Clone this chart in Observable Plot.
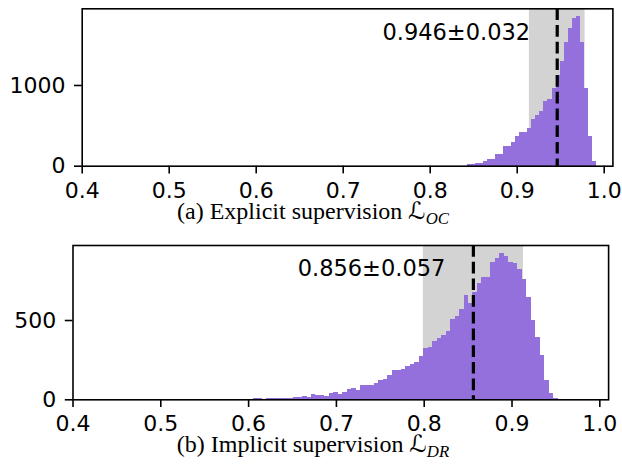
<!DOCTYPE html>
<html>
<head>
<meta charset="utf-8">
<script src="https://cdn.jsdelivr.net/npm/d3@7"></script>
<script src="https://cdn.jsdelivr.net/npm/@observablehq/plot@0.6"></script>
<style>
  body { margin: 0; background: white; }
  #fig { position: relative; width: 622px; height: 466px; background: white; overflow: hidden; }
  .panel { position: absolute; left: 0; }
  .cap { position: absolute; left: 2px; width: 622px; text-align: center;
         font-family: "Liberation Serif", "Times New Roman", serif; font-size: 24px; line-height: 20px; color: black; white-space: nowrap; }
  .cal { font-family: "DejaVu Serif", "DejaVu Sans", serif; }
  .sub { font-style: italic; font-size: 0.7em; position: relative; top: 0.3em; }
</style>
</head>
<body>
<div id="fig">
  <div id="pa" class="panel" style="top:0px"></div>
  <div class="cap" style="top:201px">(a) Explicit supervision <span class="cal">ℒ</span><span class="sub">OC</span></div>
  <div id="pb" class="panel" style="top:236px"></div>
  <div class="cap" style="top:434px">(b) Implicit supervision <span class="cal">ℒ</span><span class="sub">DR</span></div>
</div>
<script>
// ---- Panel (a): Explicit supervision, histogram of scores ----
const binStartA = 0.8425;
const binWidthA = 0.004644;
const countsA = [20, 20, 37, 37, 53, 82, 82, 140, 140, 240, 240, 298, 363, 417, 417, 466,
                 583, 624, 673, 797, 822, 967, 1120, 1293, 1533, 1703, 1835, 1855, 1533, 967, 363, 53];
const meanA = 0.946, stdA = 0.032;
const yMaxA = 1950;

// ---- Panel (b): Implicit supervision ----
const binStartB = 0.60524;
const binWidthB = 0.005108;
const countsB = [6, 6, 4, 8, 8, 6, 8, 8, 8, 15, 15, 21, 15, 33, 29, 29, 23, 40, 44, 33,
                 44, 63, 69, 57, 90, 90, 90, 101, 122, 126, 151, 183, 183, 194, 208, 224, 234, 271, 322, 328,
                 368, 385, 405, 431, 504, 525, 569, 658, 609, 678, 735, 773, 773, 864, 893, 921, 905, 863, 857, 823,
                 758, 643, 498, 395, 279, 124, 40, 8];
const meanB = 0.856, stdB = 0.057;
const yMaxB = 973;

const xTicks = [0.4, 0.5, 0.6, 0.7, 0.8, 0.9, 1.0];
const yTicksA = [0, 1000];
const yTicksB = [0, 500];

function panel({binStart, binWidth, counts, mean, std, yMax, yTicks, marginLeft, marginRight, marginTop, marginBottom, height}) {
  const bins = counts.map((c, i) => ({x1: binStart + i * binWidth, x2: binStart + (i + 1) * binWidth, y: c}));
  const stat = [{mean, std}];
  return Plot.plot({
    width: 622,
    height,
    marginLeft, marginRight, marginTop, marginBottom,
    style: {fontFamily: "DejaVu Sans", fontSize: "22px", background: "white", color: "black"},
    x: {domain: [0.4, 1.01]},
    y: {domain: [0, yMax]},
    marks: [
      Plot.rect(stat, {x1: d => d.mean - d.std, x2: d => d.mean + d.std, y1: 0, y2: yMax, fill: "#d3d3d3"}),
      Plot.rectY(bins, {x1: "x1", x2: "x2", y: "y", fill: "#9370db", shapeRendering: "crispEdges"}),
      Plot.ruleX(stat, {x: "mean", stroke: "black", strokeWidth: 3.2, strokeDasharray: "11.7,5"}),
      Plot.text(stat, {x: d => d.mean - 0.116, y: yMax * 0.85, text: d => `${d.mean.toFixed(3)}±${d.std.toFixed(3)}`,
                       fontSize: 22.5, fill: "black", textAnchor: "middle"}),
      Plot.axisX({ticks: xTicks, tickFormat: d3.format(".1f"), tickSize: 7.7, tickPadding: 8, strokeWidth: 1.6, label: null}),
      Plot.axisY({ticks: yTicks, tickFormat: d => String(d), tickSize: 7.7, tickPadding: 9, strokeWidth: 1.6, label: null}),
      Plot.frame({stroke: "black", strokeWidth: 1.6})
    ]
  });
}

document.getElementById("pa").append(panel({
  binStart: binStartA, binWidth: binWidthA, counts: countsA, mean: meanA, std: stdA, yMax: yMaxA, yTicks: yTicksA,
  marginLeft: 81.7, marginRight: 9.6, marginTop: 8.3, marginBottom: 39.3, height: 205
}));
document.getElementById("pb").append(panel({
  binStart: binStartB, binWidth: binWidthB, counts: countsB, mean: meanB, std: stdB, yMax: yMaxB, yTicks: yTicksB,
  marginLeft: 72.5, marginRight: 13.9, marginTop: 9, marginBottom: 41.7, height: 205
}));
</script>
</body>
</html>
